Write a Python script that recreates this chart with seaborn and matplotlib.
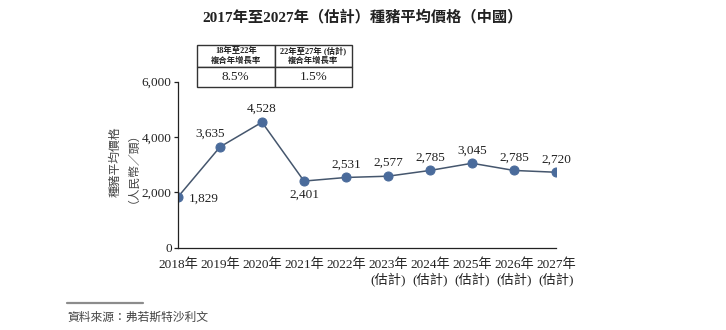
import matplotlib
matplotlib.use("Agg")
import matplotlib.pyplot as plt
import seaborn as sns
import pandas as pd
from matplotlib.ticker import FuncFormatter
from matplotlib.lines import Line2D

# ---- data ----
years = ["2018年", "2019年", "2020年", "2021年", "2022年",
         "2023年\n(估計)", "2024年\n(估計)", "2025年\n(估計)",
         "2026年\n(估計)", "2027年\n(估計)"]
prices = [1829, 3635, 4528, 2401, 2531, 2577, 2785, 3045, 2785, 2720]
y_ticks = [0, 2000, 4000, 6000]
cagr_headers = ["18年至22年\n複合年增長率", "22年至27年 (估計)\n複合年增長率"]
cagr_values = ["8.5%", "1.5%"]
title = "2017年至2027年（估計）種豬平均價格（中國）"
y_label_lines = ["種豬平均價格", "（人民幣／頭）"]
source = "資料來源：弗若斯特沙利文"

sns.set_style("white")
plt.rcParams['font.family'] = ['Liberation Serif', 'Noto Sans CJK TC', 'DejaVu Sans']

W, H = 726, 330
fig = plt.figure(figsize=(W / 100, H / 100), dpi=100)
ax = fig.add_axes([178 / W, 1 - 247.5 / H, 378 / W, 166 / H])

df = pd.DataFrame({"x": range(len(prices)), "price": prices})
sns.lineplot(data=df, x="x", y="price", ax=ax, color="#45566d", linewidth=1.1,
             marker="o", markersize=6.5, markerfacecolor="#4a6b9b",
             markeredgecolor="#4a6b9b")

ax.set_xlim(0, len(prices) - 1)
ax.set_ylim(y_ticks[0], y_ticks[-1])
ax.set_yticks(y_ticks)
ax.yaxis.set_major_formatter(FuncFormatter(lambda v, p: f"{int(v):,}"))
ax.set_xticks(range(len(years)))
ax.set_xticklabels(years, fontsize=9.5, color="#222222", linespacing=1.2)
ax.tick_params(axis="x", length=0, pad=8)
ax.tick_params(axis="y", length=3, width=0.9, direction="out", pad=1.5,
               labelsize=9.5, labelcolor="#222222", left=True, color="#222222")
ax.set_xlabel("")
ax.set_ylabel("")
for s in ["top", "right"]:
    ax.spines[s].set_visible(False)
for s in ["left", "bottom"]:
    ax.spines[s].set_color("#222222")
    ax.spines[s].set_linewidth(0.9)

# data labels
for i, v in enumerate(prices):
    if i == 0:
        off, ha = (11, -2), "left"
    elif i == 1:
        off, ha = (-10, 13), "center"
    elif i == 3:
        off, ha = (0, -14), "center"
    else:
        off, ha = (0, 13), "center"
    ax.annotate(f"{v:,}", (i, v), xytext=off, textcoords="offset pixels",
                ha=ha, va="center", fontsize=9.5, color="#222222")

# y label (two vertical columns)
for k, line in enumerate(y_label_lines):
    fig.text((116 + 12 * k) / W, 1 - 162 / H, line, rotation=90, ha="center",
             va="center", fontsize=8.5, color="#444444")

# title
fig.text(0.5, 1 - 17 / H, title, ha="center", va="center", fontsize=11,
         fontweight="bold", color="#222222")

# CAGR table
tax = fig.add_axes([197 / W, 1 - 87 / H, 155 / W, 42 / H])
tax.axis("off")
tbl = tax.table(cellText=[cagr_headers, cagr_values], cellLoc="center",
                bbox=[0, 0, 1, 1])
tbl.auto_set_font_size(False)
for (r, c), cell in tbl.get_celld().items():
    cell.set_edgecolor("#333333")
    cell.set_linewidth(1.0)
    cell.set_height(22 / 42 if r == 0 else 20 / 42)
    txt = cell.get_text()
    if r == 0:
        txt.set_fontsize(6)
        txt.set_fontweight("bold")
        txt.set_linespacing(1.15)
    else:
        txt.set_fontsize(9.5)
    txt.set_color("#222222")

# source
fig.add_artist(Line2D([67 / W, 143 / W], [1 - 303 / H, 1 - 303 / H],
                      color="#8c8c8c", linewidth=1.6, transform=fig.transFigure))
fig.text(67 / W, 1 - 318 / H, source, ha="left", va="center", fontsize=8.5,
         color="#444444", style="italic")

fig.savefig("out.png", dpi=100)
